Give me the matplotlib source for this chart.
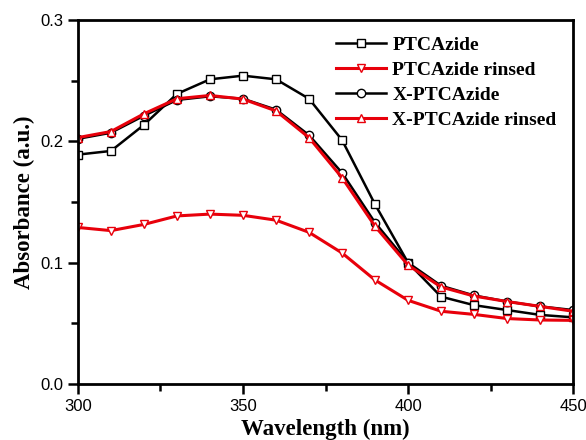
import numpy as np
import matplotlib.pyplot as plt
from matplotlib.ticker import MultipleLocator

# wavelengths (nm) and absorbance
wavelength = [300, 310, 320, 330, 340, 350, 360, 370, 380, 390, 400, 410, 420, 430, 440, 450]
ptc_azide = [0.189, 0.192, 0.2135, 0.239, 0.251, 0.254, 0.251, 0.235, 0.201, 0.148, 0.100,
             0.072, 0.065, 0.061, 0.057, 0.055]
ptc_azide_rinsed = [0.129, 0.1264, 0.1315, 0.1385, 0.140, 0.139, 0.135, 0.125, 0.108, 0.0857,
                    0.069, 0.060, 0.0574, 0.054, 0.0528, 0.0525]
x_ptc_azide = [0.202, 0.207, 0.221, 0.234, 0.237, 0.235, 0.226, 0.205, 0.174, 0.133, 0.100,
               0.081, 0.073, 0.068, 0.064, 0.061]
x_ptc_azide_rinsed = [0.203, 0.208, 0.2226, 0.235, 0.2377, 0.2347, 0.225, 0.203, 0.170, 0.130,
                      0.098, 0.080, 0.0725, 0.068, 0.064, 0.060]

fig = plt.figure(figsize=(5.86, 4.40), dpi=100)
ax = fig.add_axes([0.133, 0.127, 0.845, 0.828])

mk = dict(markersize=6, markerfacecolor="white", markeredgewidth=1.0)
ax.plot(wavelength, ptc_azide, color="black", lw=1.8, marker="s",
        markeredgecolor="black", label="PTCAzide", **mk)
ax.plot(wavelength, ptc_azide_rinsed, color="#e8000b", lw=2.2, marker="v",
        markeredgecolor="#e8000b", label="PTCAzide rinsed", **mk)
ax.plot(wavelength, x_ptc_azide, color="black", lw=1.8, marker="o",
        markeredgecolor="black", label="X-PTCAzide", **mk)
ax.plot(wavelength, x_ptc_azide_rinsed, color="#e8000b", lw=2.2, marker="^",
        markeredgecolor="#e8000b", label="X-PTCAzide rinsed", **mk)

ax.set_xlim(300, 450)
ax.set_ylim(0.0, 0.3)
ax.xaxis.set_major_locator(MultipleLocator(50))
ax.xaxis.set_minor_locator(MultipleLocator(25))
ax.yaxis.set_major_locator(MultipleLocator(0.1))
ax.yaxis.set_minor_locator(MultipleLocator(0.05))
ax.tick_params(which="both", direction="out", width=1.8, top=False, right=False,
               labelsize=12)
ax.tick_params(which="major", length=7)
ax.tick_params(which="minor", length=5)
for lbl in ax.get_xticklabels() + ax.get_yticklabels():
    lbl.set_family("Liberation Sans")
for s in ax.spines.values():
    s.set_linewidth(2)

ax.set_xlabel("Wavelength (nm)", family="Liberation Serif", fontweight="bold", fontsize=16.5)
ax.set_ylabel("Absorbance (a.u.)", family="Liberation Serif", fontweight="bold", fontsize=16.5)

ax.legend(loc="upper right", frameon=False, handlelength=2.6, handletextpad=0.3,
          labelspacing=0.38, borderaxespad=0.45,
          prop={"family": "Liberation Serif", "weight": "bold", "size": 14})

plt.savefig("out.png", dpi=100)
